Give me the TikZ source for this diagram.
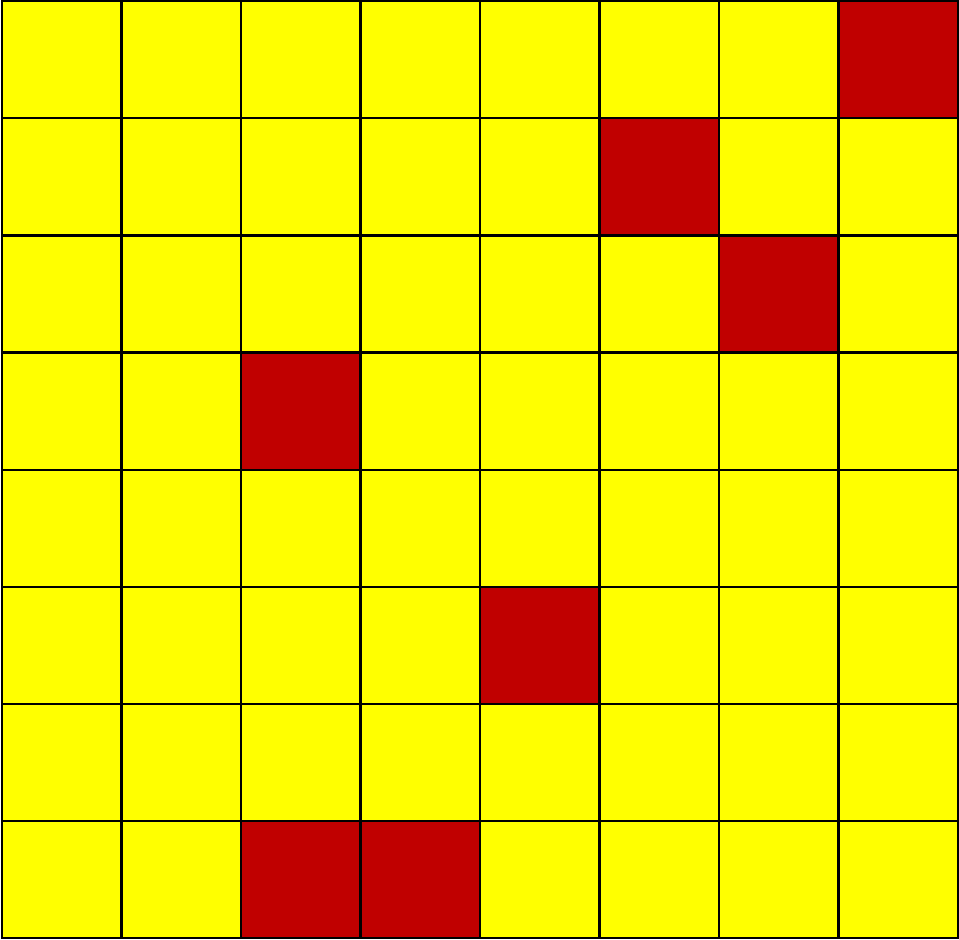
\documentclass[tikz,border=0pt]{standalone}
\definecolor{cellyellow}{RGB}{255,255,0}
\definecolor{cellred}{RGB}{192,0,0}
\tikzset{
  cell/.style={fill=cellyellow, draw=black, line width=2.2pt},
  redcell/.style={fill=cellred, draw=black, line width=2.2pt}
}
\begin{document}
\begin{tikzpicture}[x=1pt,y=-1pt]
\useasboundingbox (0,0) rectangle (959,940);
\def\cw{119.5}
\def\ch{117.1}
\foreach \r in {0,...,7}{
  \foreach \c in {0,...,7}{
    \draw[cell] ({2+\c*\cw},{1.2+\r*\ch}) rectangle ({2+(\c+1)*\cw},{1.2+(\r+1)*\ch});
  }
}
\foreach \r/\c in {0/7,1/5,2/6,3/2,5/4,7/2,7/3}{
  \draw[redcell] ({2+\c*\cw},{1.2+\r*\ch}) rectangle ({2+(\c+1)*\cw},{1.2+(\r+1)*\ch});
}
\end{tikzpicture}
\end{document}
